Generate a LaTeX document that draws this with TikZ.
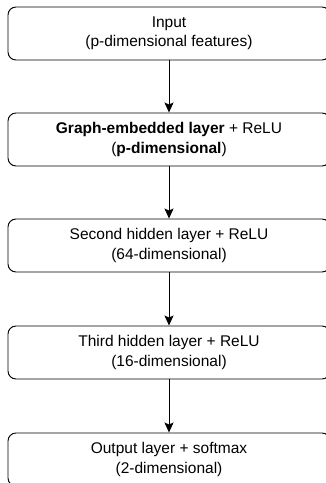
\documentclass[tikz,border=0pt]{standalone}
\usepackage{fontspec}
\setmainfont{Liberation Sans}
\usetikzlibrary{arrows.meta}
\begin{document}
\begin{tikzpicture}[x=1pt,y=-1pt,
  layerbox/.style={draw=black, line width=0.95pt, rounded corners=8pt, minimum width=322pt, minimum height=53pt, inner sep=0pt, align=center, font=\fontsize{15.5}{19.5}\selectfont, text=black},
  flow/.style={-{Stealth[length=10pt,width=9pt,inset=2pt]}, line width=0.95pt}]
\useasboundingbox (0,0) rectangle (325,483);
\node[layerbox] (in) at (169,33.5) {Input\\(p-dimensional features)};
\node[layerbox] (ge) at (169,139.5) {\textbf{Graph-embedded layer} + ReLU\\(\textbf{p-dimensional})};
\node[layerbox] (h2) at (169,245.5) {Second hidden layer + ReLU\\(64-dimensional)};
\node[layerbox] (h3) at (169,352.5) {Third hidden layer + ReLU\\(16-dimensional)};
\node[layerbox] (out) at (169,459.5) {Output layer + softmax\\(2-dimensional)};
\draw[flow] (in) -- (ge);
\draw[flow] (ge) -- (h2);
\draw[flow] (h2) -- (h3);
\draw[flow] (h3) -- (out);
\end{tikzpicture}
\end{document}
